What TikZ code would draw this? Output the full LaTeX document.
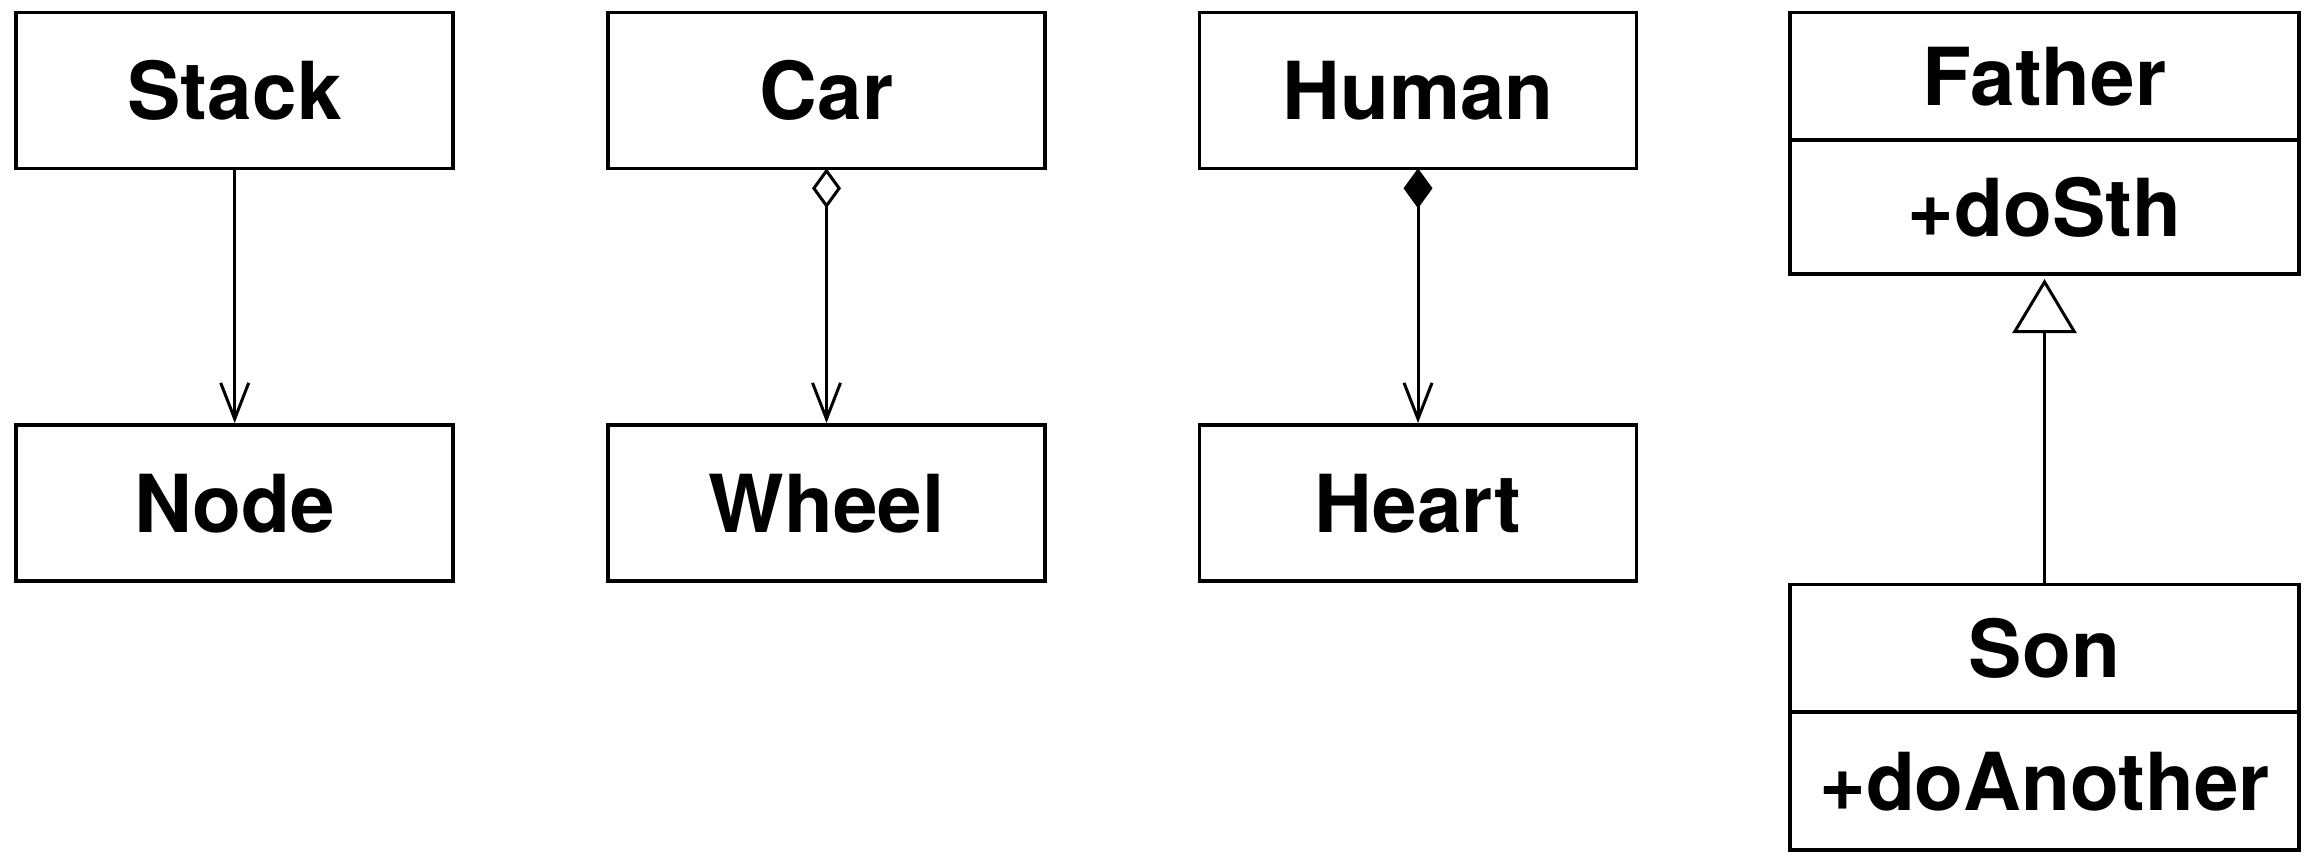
\documentclass[tikz,border=0pt]{standalone}
\usepackage{fontspec}
\setmainfont{TeX Gyre Heros}
\usetikzlibrary{arrows.meta}
\begin{document}
\begin{tikzpicture}[x=1pt,y=-1pt,
  cls/.style={draw=black, line width=3.5pt, rectangle, inner sep=0pt, outer sep=0pt,
    text height=58pt, text depth=0pt, font=\fontsize{80}{96}\selectfont\bfseries},
  wstd/.style={cls, minimum width=437pt},
  wwide/.style={cls, minimum width=509pt},
  link/.style={line width=3pt},
  openv/.style={-{Straight Barb[length=36pt,width=28pt,line width=3pt]}}
]
\useasboundingbox (0,0) rectangle (2306,857);
% column 1
\node[wstd, minimum height=156pt] (stack) at (234.7,90.3) {Stack};
\node[wstd, minimum height=156pt] (node) at (234.7,503) {Node};
% column 2
\node[wstd, minimum height=156pt] (car) at (826.5,90.3) {Car};
\node[wstd, minimum height=156pt] (wheel) at (826.5,503) {Wheel};
% column 3
\node[wstd, minimum height=156pt] (human) at (1418,90.3) {Human};
\node[wstd, minimum height=156pt] (heart) at (1418,503) {Heart};
% column 4
\node[wwide, minimum height=127.5pt] (father) at (2044.5,76.25) {Father};
\node[wwide, minimum height=134pt] (fatherops) at (2044.5,207) {+doSth};
\node[wwide, minimum height=127.5pt] (son) at (2044.5,648.25) {Son};
\node[wwide, minimum height=138pt] (sonops) at (2044.5,781) {+doAnother};
% connectors
\draw[link, openv, shorten >=2pt] (stack.south) -- (node.north);
\draw[link, shorten >=2pt, {Diamond[open,fill=white,length=40pt,width=29pt,line width=3pt]}-{Straight Barb[length=36pt,width=28pt,line width=3pt]}] (car.south) -- (wheel.north);
\draw[link, shorten >=2pt, {Diamond[fill=black,length=40pt,width=29pt,line width=3pt]}-{Straight Barb[length=36pt,width=28pt,line width=3pt]}] (human.south) -- (heart.north);
\draw[link, shorten >=5pt, -{Triangle[open,fill=white,length=54pt,width=64pt,line width=3pt]}] (son.north) -- (fatherops.south);
\end{tikzpicture}
\end{document}
